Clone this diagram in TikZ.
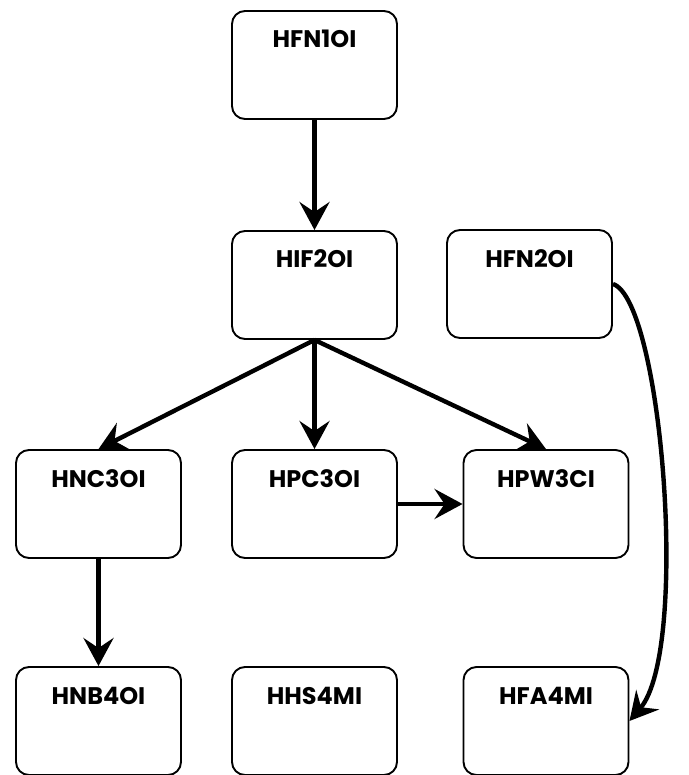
\documentclass[tikz,border=0pt]{standalone}
\usepackage{fontspec}
\newfontfamily\boxfont{Poppins}
\usetikzlibrary{arrows.meta,positioning}

\begin{document}
\begin{tikzpicture}[x=1pt, y=-1pt,
  box/.style={rectangle, draw, line width=1.9pt, rounded corners=13pt, minimum width=165pt, inner ysep=0pt, text height=37pt, text depth=71pt, align=center, font=\boxfont\bfseries\fontsize{24}{28}\selectfont},
  arrow/.style={-{Stealth[length=28pt, width=30pt, inset=10pt]}, line width=4.4pt}
]
\useasboundingbox (0,0) rectangle (688,775);

% first row
\node[box] (f1) at (314.5,65) {HFN1OI};

% second row
\node[box] (i2) at (314.5,285) {HIF2OI};
\node[box] (f2) at (529.5,284) {HFN2OI};

% third row
\node[box] (c3) at (98.5,504) {HNC3OI};
\node[box] (p3) at (314.5,504) {HPC3OI};
\node[box] (w3) at (546,504) {HPW3CI};

% fourth row
\node[box] (b4) at (98.5,721) {HNB4OI};
\node[box] (s4) at (314.5,721) {HHS4MI};
\node[box] (a4) at (546,721) {HFA4MI};

% arrows
\draw[arrow] (f1) -- (i2);
\draw[arrow] (i2.south) -- (c3.north);
\draw[arrow] (i2.south) -- (p3.north);
\draw[arrow] (i2.south) -- (w3.north);
\draw[arrow] (p3) -- (w3);
\draw[arrow] (c3) -- (b4);
\draw[arrow] (f2.east) .. controls (662,300) and (690,650) .. (a4.east);

\end{tikzpicture}
\end{document}
